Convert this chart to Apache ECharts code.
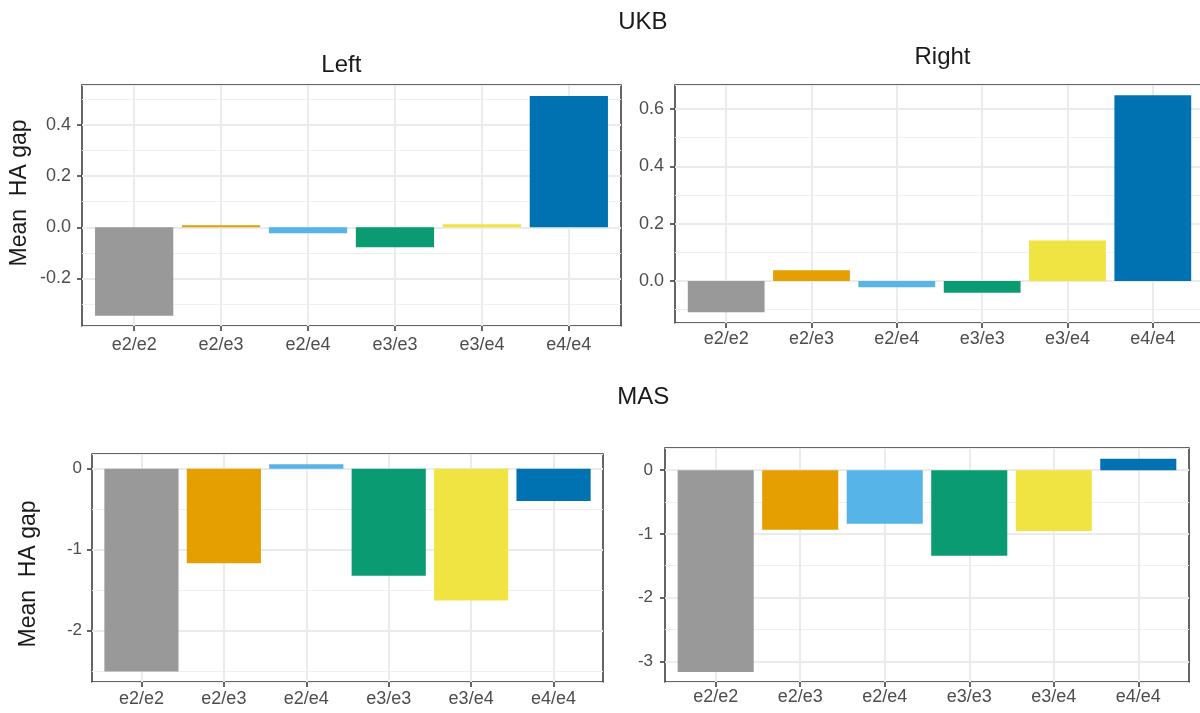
<!DOCTYPE html>
<html><head><meta charset="utf-8">
<script src="https://cdn.jsdelivr.net/npm/echarts@6/dist/echarts.min.js"></script>
<style>html,body{margin:0;padding:0;background:#fff}#c{width:1200px;height:713px}</style>
</head><body><div id="c"></div>
<script>
// ---- data ----
const categories = ['e2/e2', 'e2/e3', 'e2/e4', 'e3/e3', 'e3/e4', 'e4/e4'];
const barColors = ['#999999', '#E69F00', '#56B4E9', '#0A9B72', '#F0E442', '#0072B2'];
const ukbLeft  = [-0.346, 0.008, -0.023, -0.078, 0.012, 0.514];
const ukbRight = [-0.109, 0.037, -0.022, -0.041, 0.141, 0.648];
const masLeft  = [-2.506, -1.168, 0.054, -1.325, -1.630, -0.399];
const masRight = [-3.166, -0.934, -0.840, -1.342, -0.956, 0.178];
const ukbLeftTicks  = [-0.2, 0.0, 0.2, 0.4];
const ukbRightTicks = [0.0, 0.2, 0.4, 0.6];
const masLeftTicks  = [-2, -1, 0];
const masRightTicks = [-3, -2, -1, 0];
const ukbLeftRange  = [-0.3863, 0.5569];
const ukbRightRange = [-0.1468, 0.6838];
const masLeftRange  = [-2.637, 0.1815];
const masRightRange = [-3.3245, 0.348];
const yTitle = 'Mean  HA gap';

// ---- layout ----
const FONT = '"Liberation Sans", Arial, sans-serif';
const panels = [
  { data: ukbLeft,  ticks: ukbLeftTicks,  range: ukbLeftRange,  iv: 0.2, dec: 1, box: [82, 85, 539, 241],   yFont: 18, xFont: 18, xMargin: 10, yMargin: 11 },
  { data: ukbRight, ticks: ukbRightTicks, range: ukbRightRange, iv: 0.2, dec: 1, box: [675, 85, 529, 238], yFont: 18, xFont: 18, xMargin: 7,  yMargin: 11 },
  { data: masLeft,  ticks: masLeftTicks,  range: masLeftRange,  iv: 1,   dec: 0, box: [92, 454, 511, 228],   yFont: 17, xFont: 18, xMargin: 8,  yMargin: 10 },
  { data: masRight, ticks: masRightTicks, range: masRightRange, iv: 1,   dec: 0, box: [665, 448, 524, 234], yFont: 17, xFont: 18, xMargin: 6.5, yMargin: 12 }
];

const grid = [], xAxis = [], yAxis = [], series = [];
const tickStyle = { color: '#333333', width: 1.5 };
panels.forEach((p, i) => {
  const [l, t, w, h] = p.box;
  const band = w / 6.2;
  grid.push({ left: l, top: t, width: w, height: h, show: true, borderColor: '#333333', borderWidth: 1.5,
              backgroundColor: '#ffffff', containLabel: false, outerBoundsMode: 'none' });
  grid.push({ left: l + 0.1 * band, top: t, width: w - 0.2 * band, height: h, show: false,
              containLabel: false, outerBoundsMode: 'none' });
  xAxis.push({ gridIndex: 2 * i, type: 'category', data: categories, show: false, axisLine: { onZero: false } });
  xAxis.push({ gridIndex: 2 * i + 1, type: 'category', data: categories, position: 'bottom',
    axisLine: { show: false, onZero: false },
    axisTick: { show: true, alignWithLabel: true, length: 5, lineStyle: tickStyle },
    axisLabel: { color: '#4D4D4D', fontSize: p.xFont, fontFamily: FONT, margin: p.xMargin, interval: 0 },
    splitLine: { show: true, alignWithLabel: true, lineStyle: { color: '#EBEBEB', width: 2 } } });
  // minor grid lines
  yAxis.push({ gridIndex: 2 * i, type: 'value', position: 'right', min: p.range[0], max: p.range[1],
    minInterval: p.iv / 2, maxInterval: p.iv / 2,
    axisLine: { show: false }, axisTick: { show: false }, axisLabel: { show: false },
    splitLine: { show: true, lineStyle: { color: '#EFEFEF', width: 1.2 } } });
  // major
  yAxis.push({ gridIndex: 2 * i, type: 'value', position: 'left', min: p.range[0], max: p.range[1],
    minInterval: p.iv, maxInterval: p.iv,
    axisLine: { show: false },
    axisTick: { show: true, length: 5, lineStyle: tickStyle, customValues: p.ticks },
    axisLabel: { color: '#4D4D4D', fontSize: p.yFont, fontFamily: FONT, margin: p.yMargin,
                 customValues: p.ticks, formatter: v => Number(v).toFixed(p.dec) },
    splitLine: { show: true, lineStyle: { color: '#EBEBEB', width: 2 } } });
  yAxis.push({ gridIndex: 2 * i + 1, type: 'value', min: p.range[0], max: p.range[1], show: false });
  series.push({ type: 'bar', xAxisIndex: 2 * i + 1, yAxisIndex: 3 * i + 2, barWidth: '90%',
    data: p.data.map((v, j) => ({ value: v, itemStyle: { color: barColors[j] } })) });
});

const txt = (s, x, y, size, rot) => ({ type: 'text', x, y, rotation: rot || 0, z: 10,
  style: { text: s, fontSize: size, fontFamily: FONT, fill: '#1A1A1A', align: 'center', verticalAlign: 'middle' } });

const chart = echarts.init(document.getElementById('c'), null, { renderer: 'canvas' });
chart.setOption({
  animation: false,
  backgroundColor: '#ffffff',
  grid, xAxis, yAxis, series,
  graphic: [
    txt('UKB', 642.8, 22, 24),
    txt('Left', 341.3, 65, 24),
    txt('Right', 942.5, 57, 24),
    txt('MAS', 643.3, 397, 24),
    txt(yTitle, 20, 193, 23, Math.PI / 2),
    txt(yTitle, 28.5, 574, 23, Math.PI / 2)
  ]
});
</script></body></html>
